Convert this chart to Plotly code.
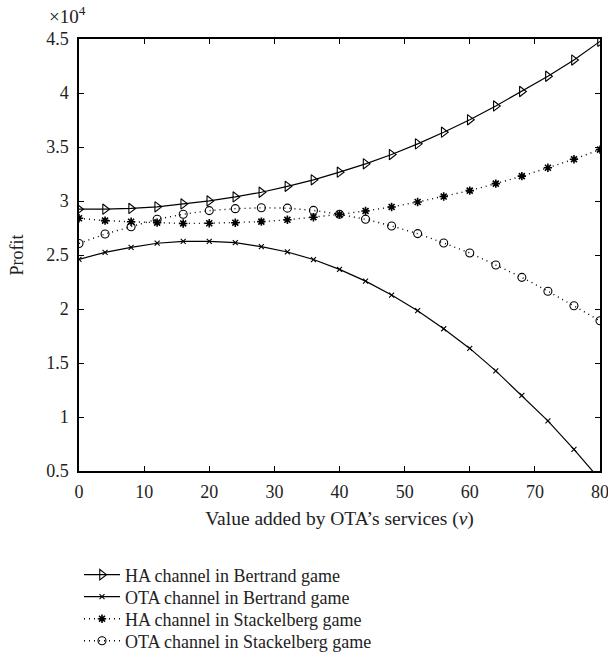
import plotly.graph_objects as go

# Value added by OTA's services (v)
v = [0, 4, 8, 12, 16, 20, 24, 28, 32, 36, 40, 44, 48, 52, 56, 60, 64, 68, 72, 76, 80]

# Profit values (in units of 10^4)
ha_bertrand = [2.924, 2.924, 2.931, 2.946, 2.973, 3.001, 3.038, 3.081, 3.136, 3.196, 3.267,
               3.344, 3.430, 3.529, 3.637, 3.752, 3.880, 4.014, 4.155, 4.305, 4.478]
ota_bertrand = [2.460, 2.525, 2.571, 2.609, 2.627, 2.627, 2.614, 2.577, 2.528, 2.458, 2.367,
                2.258, 2.129, 1.984, 1.817, 1.635, 1.427, 1.200, 0.964, 0.700, 0.420]
ha_stackelberg = [2.840, 2.818, 2.808, 2.800, 2.792, 2.794, 2.799, 2.809, 2.826, 2.850, 2.876,
                  2.908, 2.945, 2.991, 3.041, 3.096, 3.161, 3.230, 3.308, 3.387, 3.476]
ota_stackelberg = [2.607, 2.694, 2.762, 2.831, 2.877, 2.911, 2.929, 2.937, 2.934, 2.913, 2.877,
                   2.831, 2.769, 2.698, 2.611, 2.519, 2.407, 2.293, 2.165, 2.030, 1.891]

names = ["HA channel in Bertrand game", "OTA channel in Bertrand game",
         "HA channel in Stackelberg game", "OTA channel in Stackelberg game"]

x_ticks = [0, 10, 20, 30, 40, 50, 60, 70, 80]
y_ticks = [0.5, 1, 1.5, 2, 2.5, 3, 3.5, 4, 4.5]

FONT = "Liberation Serif"
TXT = "#222"
DOTS = "1px,4px"

fig = go.Figure()
fig.add_trace(go.Scatter(x=v, y=ha_bertrand, name=names[0], mode="lines+markers",
                         legend="legend", showlegend=True,
                         line=dict(color="black", width=1.2),
                         marker=dict(symbol="triangle-right-open", size=9, color="black",
                                     line=dict(width=1.1, color="black"))))
fig.add_trace(go.Scatter(x=v, y=ota_bertrand, name=names[1], mode="lines+markers",
                         legend="legend2", showlegend=True,
                         line=dict(color="black", width=1.2),
                         marker=dict(symbol="x-thin-open", size=5, color="black",
                                     line=dict(width=1.1, color="black"))))
fig.add_trace(go.Scatter(x=v, y=ha_stackelberg, name=names[2], mode="lines+markers",
                         legend="legend3", showlegend=True,
                         line=dict(color="black", width=1.4, dash=DOTS),
                         marker=dict(symbol="asterisk-open", size=7, color="black",
                                     line=dict(width=1.6, color="black"))))
fig.add_trace(go.Scatter(x=v, y=ota_stackelberg, name=names[3], mode="lines+markers",
                         legend="legend4", showlegend=True,
                         line=dict(color="black", width=1.4, dash=DOTS),
                         marker=dict(symbol="circle-open", size=8, color="black",
                                     line=dict(width=1.1, color="black"))))

axis_common = dict(showline=True, linecolor="black", linewidth=1.5, mirror="ticks",
                   ticks="inside", ticklen=5, tickcolor="black", tickwidth=1,
                   showgrid=False, zeroline=False, ticklabeloverflow="allow",
                   tickfont=dict(family=FONT, size=18, color=TXT))

fig.update_xaxes(range=[0, 80], tickvals=x_ticks, ticklabelstandoff=4,
                 title=dict(text="Value added by OTA’s services (<i>v</i>)",
                            font=dict(family=FONT, size=19.5, color=TXT), standoff=10),
                 **axis_common)
fig.update_yaxes(range=[0.5, 4.5], tickvals=y_ticks, ticklabelstandoff=5,
                 title=dict(text="Profit", font=dict(family=FONT, size=18, color=TXT),
                            standoff=18),
                 **axis_common)

fig.add_annotation(text="×10<sup>4</sup>", xref="paper", yref="paper",
                   x=-0.062, y=1.055, xanchor="left", yanchor="middle", showarrow=False,
                   font=dict(family=FONT, size=19, color=TXT))

def leg(y):
    return dict(x=0.0, y=y, xanchor="left", yanchor="middle",
                font=dict(family=FONT, size=18, color=TXT),
                itemwidth=36, bgcolor="rgba(0,0,0,0)", visible=True)

fig.update_layout(
    width=608, height=663,
    showlegend=True,
    margin=dict(l=79, r=8, t=39, b=192, autoexpand=False),
    plot_bgcolor="white", paper_bgcolor="white",
    font=dict(family=FONT, size=18, color=TXT),
    legend=leg(-0.2407), legend2=leg(-0.2917), legend3=leg(-0.3426), legend4=leg(-0.3935),
)

fig.write_html("out.html")
